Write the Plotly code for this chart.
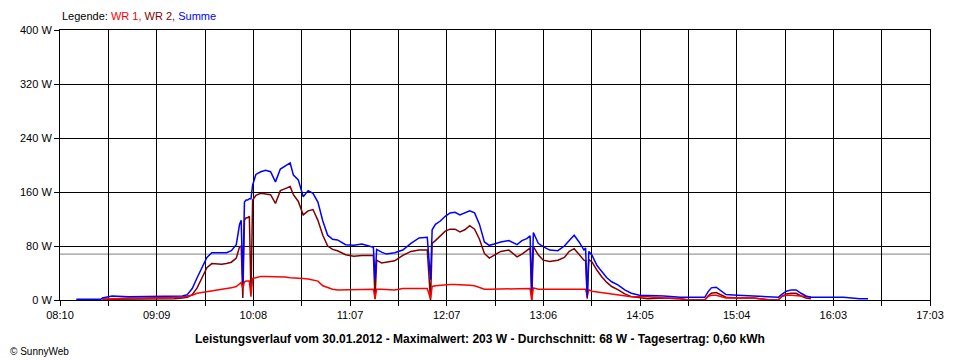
import plotly.graph_objects as go

# ---- data ----
times = ["08:20", "08:35", "08:36", "08:42", "08:52", "09:00", "09:10", "09:20", "09:25", "09:28",
         "09:31", "09:34", "09:37", "09:40", "09:43", "09:46", "09:49", "09:52", "09:55", "09:58",
         "10:00", "10:01", "10:02", "10:03", "10:04", "10:05", "10:06", "10:07", "10:08", "10:10",
         "10:13", "10:16", "10:19", "10:22", "10:25", "10:28", "10:31", "10:33", "10:36", "10:39",
         "10:42", "10:45", "10:48", "10:51", "10:54", "10:57", "11:00", "11:05", "11:10", "11:15",
         "11:20", "11:22", "11:23", "11:24", "11:27", "11:30", "11:35", "11:40", "11:45", "11:50",
         "11:55", "11:57", "11:58", "12:00", "12:03", "12:06", "12:09", "12:12", "12:15", "12:18",
         "12:21", "12:24", "12:27", "12:30", "12:33", "12:36", "12:40", "12:45", "12:50", "12:53",
         "12:56", "12:58", "12:59", "13:00", "13:03", "13:06", "13:10", "13:15", "13:19", "13:22",
         "13:25", "13:28", "13:31", "13:32", "13:33", "13:34", "13:36", "13:39", "13:42", "13:45",
         "13:48", "13:52", "13:56", "14:00", "14:05", "14:10", "14:20", "14:30", "14:35", "14:40",
         "14:45", "14:47", "14:49", "14:52", "14:55", "14:58", "15:05", "15:15", "15:25", "15:30",
         "15:32", "15:35", "15:38", "15:41", "15:44", "15:47", "15:50", "15:52", "16:00", "16:10",
         "16:20", "16:25"]

summe = [1, 1, 3, 6, 5, 5, 5, 5, 6, 8,
         17, 33, 48, 63, 70, 70, 70, 70, 73, 82,
         112, 118, 25, 145, 148, 148, 150, 150, 170, 186,
         190, 192, 190, 175, 194, 199, 203, 185, 178, 153,
         162, 158, 145, 117, 96, 90, 89, 82, 81, 83,
         80, 78, 30, 75, 71, 68, 70, 74, 84, 92,
         93, 30, 104, 112, 117, 124, 129, 130, 126, 129,
         132, 129, 112, 86, 81, 83, 86, 88, 82, 88,
         91, 95, 15, 100, 84, 79, 74, 73, 80, 88,
         96, 86, 74, 77, 5, 72, 66, 51, 42, 33,
         27, 22, 15, 10, 7, 7, 6, 4, 4, 4,
         4, 12, 18, 19, 13, 8, 7, 6, 4, 4,
         8, 13, 15, 15, 10, 6, 4, 4, 4, 4,
         2, 2]

wr2 = [None, None, 1, 1, 1, 2, 2, 2, 3, 4,
       8, 18, 33, 48, 54, 53, 53, 54, 56, 62,
       79, 80, 3, 118, 122, 122, 124, 8, 148, 155,
       158, 157, 156, 143, 162, 165, 168, 156, 146, 126,
       132, 134, 118, 96, 80, 75, 73, 67, 65, 66,
       66, 66, 1, 59, 55, 56, 58, 66, 72, 74,
       74, 0, 84, 88, 95, 102, 105, 105, 101, 104,
       110, 105, 90, 69, 62, 66, 72, 74, 64, 68,
       73, 77, 0, 79, 67, 59, 57, 59, 63, 72,
       76, 68, 59, 58, 2, 60, 56, 44, 34, 26,
       20, 15, 9, 5, 3, 2, 3, 2, 0, 0,
       0, 6, 10, 11, 7, 4, 3, 3, 0, 0,
       5, 9, 10, 10, 6, 3, 2, None, None, None,
       None, None]

wr1 = [None, None, 1, 2, 3, 3, 3, 3, 4, 6,
       7, 10, 11, 12, 14, 15, 15, 17, 18, 20,
       25, 26, 17, 27, 28, 28, 28, 5, 32, 33,
       35, 35, 35, 34, 34, 34, 33, 33, 33, 32,
       31, 30, 28, 21, 18, 16, 15, 15, 15, 15,
       16, 16, 2, 16, 16, 16, 15, 17, 17, 17,
       17, 2, 20, 21, 22, 23, 23, 23, 23, 23,
       22, 21, 18, 16, 16, 16, 17, 17, 17, 17,
       17, 17, 0, 18, 16, 16, 16, 16, 16, 17,
       17, 16, 16, 16, 6, 15, 13, 12, 11, 10,
       9, 7, 6, 5, 5, 5, 3, 2, 0, 0,
       0, 5, 7, 7, 5, 3, 3, 3, 0, 0,
       5, 7, 7, 7, 6, 5, 5, None, None, None,
       None, None]

avg_w = 68
x_start, x_end = "08:10", "17:03"
x_tick_labels = ["08:10", "09:09", "10:08", "11:07", "12:07", "13:06", "14:05", "15:04", "16:03", "17:03"]
y_ticks = [0, 80, 160, 240, 320, 400]
y_tick_labels = ["0 W", "80 W", "160 W", "240 W", "320 W", "400 W"]


def to_min(s):
    h, m = s.split(":")
    return int(h) * 60 + int(m)


xm = [to_min(t) for t in times]
x0, x1 = to_min(x_start), to_min(x_end)
n_div = 2 * (len(x_tick_labels) - 1)
step = (x1 - x0) / n_div
xtickvals = [x0 + i * step for i in range(n_div + 1)]
xticktext = [x_tick_labels[i // 2] if i % 2 == 0 else "" for i in range(n_div + 1)]

FONT = "Liberation Sans, Arial, sans-serif"

fig = go.Figure()
fig.add_trace(go.Scatter(x=xm, y=wr2, mode="lines", name="WR 2",
                         line=dict(color="#800000", width=1.5), connectgaps=False))
fig.add_trace(go.Scatter(x=xm, y=wr1, mode="lines", name="WR 1",
                         line=dict(color="#FF0000", width=1.5), connectgaps=False))
fig.add_trace(go.Scatter(x=xm, y=summe, mode="lines", name="Summe",
                         line=dict(color="#0000FF", width=1.5), connectgaps=False))

fig.add_shape(type="line", xref="paper", x0=0, x1=1, yref="y", y0=avg_w, y1=avg_w,
              line=dict(color="#808080", width=1), layer="below")

# page body has an 8px margin, so the figure is 952x352 to fill the 960x360 window
fig.update_layout(
    width=952, height=352,
    margin=dict(l=52, r=30, t=22, b=60),
    paper_bgcolor="white", plot_bgcolor="white",
    showlegend=False,
    hovermode=False,
    font=dict(family=FONT, size=11, color="black"),
)
fig.update_xaxes(
    range=[x0, x1], tickmode="array", tickvals=xtickvals, ticktext=xticktext,
    showgrid=True, gridcolor="black", gridwidth=1,
    showline=True, linecolor="black", linewidth=1, mirror=True,
    ticks="outside", ticklen=5, tickcolor="black", zeroline=False,
    tickfont=dict(family=FONT, size=11, color="black"),
)
fig.update_yaxes(
    range=[0, 400], tickmode="array", tickvals=y_ticks, ticktext=y_tick_labels,
    showgrid=True, gridcolor="black", gridwidth=1,
    showline=True, linecolor="black", linewidth=1, mirror=True,
    ticks="outside", ticklen=5, tickcolor="black", zeroline=False,
    tickfont=dict(family=FONT, size=11, color="black"),
)

fig.add_annotation(
    xref="paper", yref="paper", x=0, y=1, yshift=6, xanchor="left", yanchor="bottom",
    showarrow=False, font=dict(family=FONT, size=11, color="black"),
    text="Legende: <span style='color:#FF0000'>WR 1, </span><span style='color:#800000'>WR 2, </span>"
         "<span style='color:#0000FF'>Summe</span>",
)
fig.add_annotation(
    xref="paper", yref="paper", x=0.4828, y=0, yshift=-30, xanchor="center", yanchor="top",
    showarrow=False, font=dict(family=FONT, size=12, color="black"),
    text="<b>Leistungsverlauf vom 30.01.2012 - Maximalwert: 203 W - Durchschnitt: 68 W - "
         "Tagesertrag: 0,60 kWh</b>",
)
fig.add_annotation(
    xref="paper", yref="paper", x=-0.0598, y=0, yshift=-44, xanchor="left", yanchor="top",
    showarrow=False, font=dict(family=FONT, size=10, color="black"),
    text="© SunnyWeb",
)

fig.write_html("out.html")
